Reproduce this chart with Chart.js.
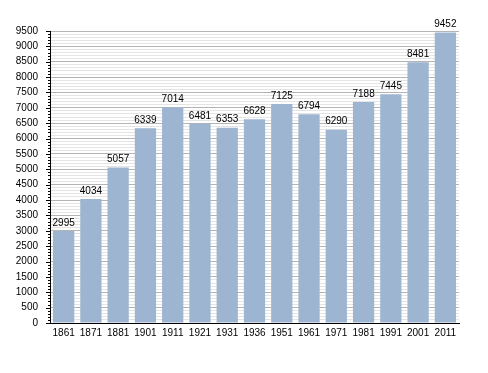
<!DOCTYPE html>
<html lang="en">
  <head>
    <meta charset="UTF-8" />
    <title>Population</title>
    <script src="https://cdn.jsdelivr.net/npm/chart.js"></script>
    <style>
      html, body {
        margin: 0;
        padding: 0;
        background: #fff;
      }
      #wrap {
        width: 488px;
        height: 373px;
      }
    </style>
  </head>
  <body>
    <div id="wrap"><canvas id="chart" width="488" height="373"></canvas></div>

    <script>
      const years = ["1861", "1871", "1881", "1901", "1911", "1921", "1931", "1936",
        "1951", "1961", "1971", "1981", "1991", "2001", "2011"];
      const population = [2995, 4034, 5057, 6339, 7014, 6481, 6353, 6628,
        7125, 6794, 6290, 7188, 7445, 8481, 9452];
      const yMax = 9500;
      const majorStep = 500;
      const minorStep = 100;

      const FONT = "'Liberation Sans', Arial, sans-serif";

      // value labels on top of each bar
      const barLabels = {
        id: "barLabels",
        afterDatasetsDraw(chart) {
          const ctx = chart.ctx;
          const meta = chart.getDatasetMeta(0);
          ctx.save();
          ctx.font = "10px " + FONT;
          ctx.fillStyle = "#000";
          ctx.textAlign = "center";
          ctx.textBaseline = "bottom";
          meta.data.forEach((bar, i) => {
            ctx.fillText(String(population[i]), bar.x, bar.y - 3);
          });
          ctx.restore();
        },
      };

      // major / minor tick marks on the y axis
      const yTickMarks = {
        id: "yTickMarks",
        afterDraw(chart) {
          const ctx = chart.ctx;
          const y = chart.scales.y;
          const x0 = chart.chartArea.left;
          ctx.save();
          ctx.strokeStyle = "#000";
          ctx.lineWidth = 1;
          y.ticks.forEach((t) => {
            const py = Math.round(y.getPixelForValue(t.value)) + 0.5;
            const len = t.value % majorStep === 0 ? 4 : 2;
            ctx.beginPath();
            ctx.moveTo(x0 - len, py);
            ctx.lineTo(x0, py);
            ctx.stroke();
          });
          ctx.restore();
        },
      };

      new Chart(document.getElementById("chart"), {
        type: "bar",
        data: {
          labels: years,
          datasets: [
            {
              data: population,
              backgroundColor: "#9db5d1",
              borderWidth: 0,
              barPercentage: 0.78,
              categoryPercentage: 1,
            },
          ],
        },
        options: {
          responsive: false,
          animation: false,
          layout: {
            padding: { left: 0, right: 29, top: 31, bottom: 30 },
          },
          plugins: {
            legend: { display: false },
            tooltip: { enabled: false },
          },
          scales: {
            x: {
              grid: { display: false, drawTicks: false },
              border: { color: "#000", width: 1 },
              ticks: {
                color: "#000",
                font: { family: FONT, size: 10 },
                padding: 4,
                maxRotation: 0,
                autoSkip: false,
              },
              afterFit(scale) {
                scale.height = 20;
              },
            },
            y: {
              min: 0,
              max: yMax,
              border: { color: "#000", width: 1 },
              grid: {
                drawTicks: false,
                color: (c) =>
                  c.tick && c.tick.value % majorStep === 0 ? "#b4b4b4" : "#e4e4e4",
              },
              ticks: {
                stepSize: minorStep,
                autoSkip: false,
                color: "#000",
                font: { family: FONT, size: 10 },
                padding: 12,
                callback: (v) => (v % majorStep === 0 ? String(v) : ""),
              },
              afterFit(scale) {
                scale.width = 50;
              },
            },
          },
        },
        plugins: [barLabels, yTickMarks],
      });
    </script>
  </body>
</html>
